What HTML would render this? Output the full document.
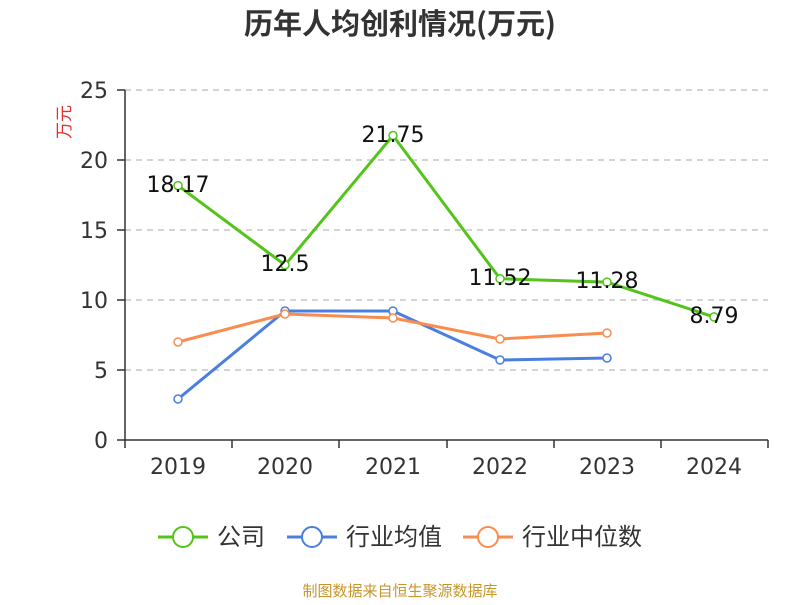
<!DOCTYPE html>
<html><head><meta charset="utf-8"><style>
body{margin:0;background:#fff;}
svg text{font-family:"DejaVu Sans","Noto Sans CJK SC",sans-serif;}
</style></head><body>
<svg width="800" height="600" viewBox="0 0 800 600" xmlns="http://www.w3.org/2000/svg">
<text x="400" y="34" text-anchor="middle" font-size="29" font-weight="bold" fill="#333" style="font-family:'Noto Sans CJK SC',sans-serif">历年人均创利情况(万元)</text>
<text x="70" y="122" font-size="17" fill="#e03030" transform="rotate(-90 70 122)" text-anchor="middle" style="font-family:'Noto Sans CJK SC',sans-serif">万元</text>
<g stroke="#bbb" stroke-dasharray="6,5" stroke-width="1.2">
<line x1="125" y1="90" x2="768" y2="90"/><line x1="125" y1="160" x2="768" y2="160"/>
<line x1="125" y1="230" x2="768" y2="230"/><line x1="125" y1="300" x2="768" y2="300"/>
<line x1="125" y1="370" x2="768" y2="370"/>
</g>
<g stroke="#333" stroke-width="1.5">
<line x1="125" y1="90" x2="125" y2="440"/><line x1="125" y1="440" x2="768" y2="440"/>
<line x1="117" y1="90" x2="125" y2="90"/><line x1="117" y1="160" x2="125" y2="160"/>
<line x1="117" y1="230" x2="125" y2="230"/><line x1="117" y1="300" x2="125" y2="300"/>
<line x1="117" y1="370" x2="125" y2="370"/><line x1="117" y1="440" x2="125" y2="440"/>
<line x1="125" y1="440" x2="125" y2="448"/><line x1="232" y1="440" x2="232" y2="448"/>
<line x1="339" y1="440" x2="339" y2="448"/><line x1="447" y1="440" x2="447" y2="448"/>
<line x1="554" y1="440" x2="554" y2="448"/><line x1="661" y1="440" x2="661" y2="448"/>
<line x1="768" y1="440" x2="768" y2="448"/>
</g>
<g font-size="22" fill="#333" text-anchor="end">
<text x="108" y="98">25</text><text x="108" y="168">20</text><text x="108" y="238">15</text>
<text x="108" y="308">10</text><text x="108" y="378">5</text><text x="108" y="448">0</text>
</g>
<g font-size="22" fill="#333" text-anchor="middle">
<text x="178" y="474">2019</text><text x="285" y="474">2020</text><text x="393" y="474">2021</text>
<text x="500" y="474">2022</text><text x="607" y="474">2023</text><text x="714" y="474">2024</text>
</g>
<polyline fill="none" stroke="#4a7fe0" stroke-width="3" points="178,399 285,311 393,311 500,360 607,358"/>
<polyline fill="none" stroke="#fa8c50" stroke-width="3" points="178,342 285,314 393,318 500,339 607,333"/>
<polyline fill="none" stroke="#52c41a" stroke-width="3" points="178,185.6 285,265 393,135.5 500,278.7 607,282.1 714,316.9"/>
<g fill="#fff" stroke="#4a7fe0" stroke-width="1.5">
<circle cx="178" cy="399" r="4"/><circle cx="285" cy="311" r="4"/><circle cx="393" cy="311" r="4"/><circle cx="500" cy="360" r="4"/><circle cx="607" cy="358" r="4"/></g>
<g fill="#fff" stroke="#fa8c50" stroke-width="1.5">
<circle cx="178" cy="342" r="4"/><circle cx="285" cy="314" r="4"/><circle cx="393" cy="318" r="4"/><circle cx="500" cy="339" r="4"/><circle cx="607" cy="333" r="4"/></g>
<g fill="#fff" stroke="#52c41a" stroke-width="1.5">
<circle cx="178" cy="185.6" r="4"/><circle cx="285" cy="265" r="4"/><circle cx="393" cy="135.5" r="4"/><circle cx="500" cy="278.7" r="4"/><circle cx="607" cy="282.1" r="4"/><circle cx="714" cy="316.9" r="4"/></g>
<g font-size="22" fill="#111" text-anchor="middle">
<text x="178" y="192">18.17</text><text x="285" y="271">12.5</text><text x="393" y="142">21.75</text>
<text x="500" y="285">11.52</text><text x="607" y="288">11.28</text><text x="714" y="323">8.79</text>
</g>
<g font-size="24" fill="#333">
<line x1="158" y1="537" x2="208" y2="537" stroke="#52c41a" stroke-width="3"/><circle cx="183" cy="537" r="10" fill="#fff" stroke="#52c41a" stroke-width="2"/>
<text x="217" y="545" style="font-family:'Noto Sans CJK SC',sans-serif">公司</text>
<line x1="287" y1="537" x2="337" y2="537" stroke="#4a7fe0" stroke-width="3"/><circle cx="312" cy="537" r="10" fill="#fff" stroke="#4a7fe0" stroke-width="2"/>
<text x="346" y="545" style="font-family:'Noto Sans CJK SC',sans-serif">行业均值</text>
<line x1="463" y1="537" x2="513" y2="537" stroke="#fa8c50" stroke-width="3"/><circle cx="488" cy="537" r="10" fill="#fff" stroke="#fa8c50" stroke-width="2"/>
<text x="522" y="545" style="font-family:'Noto Sans CJK SC',sans-serif">行业中位数</text>
</g>
<text x="400" y="596" text-anchor="middle" font-size="15" fill="#c8962a" style="font-family:'Noto Sans CJK SC',sans-serif">制图数据来自恒生聚源数据库</text>
</svg>
</body></html>
